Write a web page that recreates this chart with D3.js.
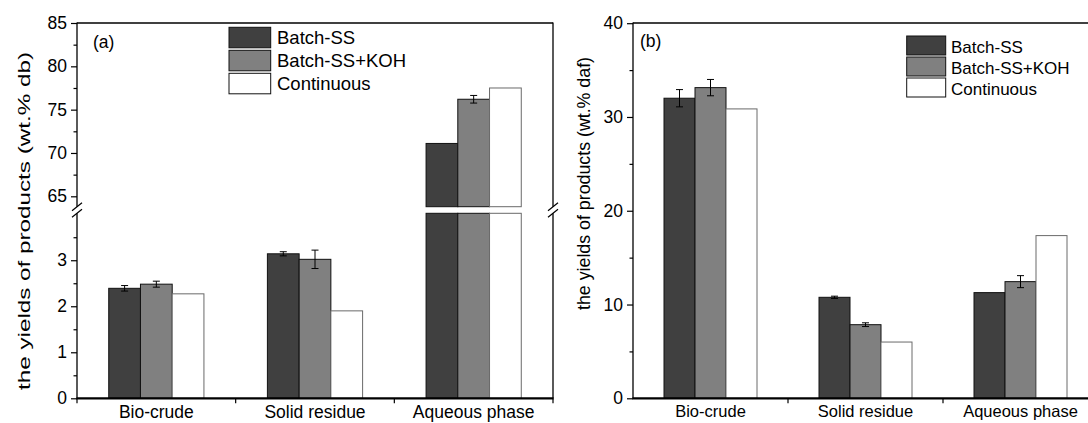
<!DOCTYPE html>
<html><head><meta charset="utf-8">
<script src="https://cdn.jsdelivr.net/npm/d3@7"></script>
<style>body{margin:0;background:#fff}svg{display:block;font-family:"Liberation Sans",Arial,sans-serif}</style>
</head><body>
<svg id="c" width="1088" height="423"></svg>
<script>
const categories = ["Bio-crude", "Solid residue", "Aqueous phase"];
const seriesNames = ["Batch-SS", "Batch-SS+KOH", "Continuous"];
const colors = ["#404040", "#808080", "#ffffff"];
// panel (a) wt.% db
const dbBatch = [2.39, 3.14, 71.1];
const dbBatchErr = [0.06, 0.045, 0];
const dbKOH = [2.48, 3.02, 76.2];
const dbKOHErr = [0.065, 0.2, 0.44];
const dbCont = [2.27, 1.90, 77.5];
const dbContErr = [0, 0, 0];
// panel (b) wt.% daf
const dafBatch = [32.0, 10.77, 11.27];
const dafBatchErr = [0.92, 0.12, 0];
const dafKOH = [33.13, 7.85, 12.44];
const dafKOHErr = [0.87, 0.2, 0.64];
const dafCont = [30.86, 6.0, 17.35];
const dafContErr = [0, 0, 0];
const upperTicks = [65, 70, 75, 80, 85];
const upperMinor = [67.5, 72.5, 77.5, 82.5];
const lowerTicks = [0, 1, 2, 3];
const lowerMinor = [0.5, 1.5, 2.5, 3.5];
const bTicks = [0, 10, 20, 30, 40];
const bMinor = [5, 15, 25, 35];

const svg = d3.select("#c");
const BOT = 398.3, TOP = 23;

function drawBars(g, x, inner, vals, errs, yFn, segs) {
  vals.forEach((vs, si) => {
    vs.forEach((v, ci) => {
      const bx = x(categories[ci]) + inner(seriesNames[si]);
      const w = inner.bandwidth();
      segs(v).forEach(([ya, yb]) => {
        g.append("rect").attr("x", bx).attr("y", ya).attr("width", w).attr("height", yb - ya)
          .attr("fill", colors[si]).attr("stroke", si === 2 ? "#6a6a6a" : "#111").attr("stroke-width", 1);
      });
      const e = errs[si][ci];
      if (e > 0) {
        const cx = bx + w / 2;
        const y1 = yFn(v + e), y2 = yFn(v - e);
        g.append("line").attr("x1", cx).attr("x2", cx).attr("y1", y1).attr("y2", y2).attr("stroke", "#000").attr("stroke-width", 1);
        [y1, y2].forEach(yy => g.append("line").attr("x1", cx - 3.5).attr("x2", cx + 3.5).attr("y1", yy).attr("y2", yy).attr("stroke", "#000").attr("stroke-width", 1));
      }
    });
  });
}

function styleAxis(ax) {
  ax.selectAll(".domain").remove();
  ax.selectAll(".tick line").attr("stroke", "#000").attr("stroke-width", 1.2);
  ax.selectAll(".tick text").attr("font-size", 17.5).attr("fill", "#000").attr("font-family", "Liberation Sans, Arial, sans-serif");
}

// ---------------- Panel (a) ----------------
{
  const L = 77, R = 553;
  const gapTop = 206.7, gapBot = 213.3;
  const yLow = d3.scaleLinear().domain([0, 4.02]).range([BOT, gapBot]);
  const yUp = d3.scaleLinear().domain([63.8, 85]).range([gapTop, TOP]);
  const yFn = v => v > 63.8 ? yUp(v) : yLow(v);
  const x = d3.scaleBand().domain(categories).range([L, R]).padding(0);
  const inner = d3.scaleBand().domain(seriesNames).range([x.bandwidth() * 0.2, x.bandwidth() * 0.8]);
  const g = svg.append("g");
  const segs = v => v > 63.8 ? [[yUp(v), gapTop], [gapBot, BOT]] : [[yLow(v), BOT]];
  drawBars(g, x, inner, [dbBatch, dbKOH, dbCont], [dbBatchErr, dbKOHErr, dbContErr], yFn, segs);

  const a1 = g.append("g").attr("transform", `translate(${L},0)`).call(d3.axisLeft(yUp).tickValues(upperTicks).tickSize(6).tickPadding(4).tickFormat(d3.format("d")));
  styleAxis(a1);
  const a1m = g.append("g").attr("transform", `translate(${L},0)`).call(d3.axisLeft(yUp).tickValues(upperMinor).tickSize(3.5).tickFormat(""));
  styleAxis(a1m);
  const a2 = g.append("g").attr("transform", `translate(${L},0)`).call(d3.axisLeft(yLow).tickValues(lowerTicks).tickSize(6).tickPadding(4).tickFormat(d3.format("d")));
  styleAxis(a2);
  const a2m = g.append("g").attr("transform", `translate(${L},0)`).call(d3.axisLeft(yLow).tickValues(lowerMinor).tickSize(3.5).tickFormat(""));
  styleAxis(a2m);

  const ln = (x1, y1, x2, y2, w) => g.append("line").attr("x1", x1).attr("y1", y1).attr("x2", x2).attr("y2", y2).attr("stroke", "#000").attr("stroke-width", w || 1.3);
  ln(L, TOP, R, TOP);
  [L, R].forEach(xx => {
    ln(xx, TOP - 0.6, xx, gapTop);
    ln(xx, gapBot, xx, BOT);
    ln(xx - 5, gapTop + 4, xx + 5, gapTop - 4, 1.2);
    ln(xx - 5, gapBot + 4, xx + 5, gapBot - 4, 1.2);
  });
  const xa = g.append("g").attr("transform", `translate(0,${BOT})`).call(d3.axisBottom(x).tickSize(0).tickPadding(7.5));
  xa.selectAll(".domain").remove();
  xa.selectAll(".tick text").attr("font-size", 17.5).attr("fill", "#000");
  [L, ...categories.map(c => x(c) + x.bandwidth())].forEach(xx => ln(xx, BOT, xx, BOT + 5, 1.2));
  ln(L - 0.6, BOT, R + 0.6, BOT, 2.2);

  g.append("text").attr("x", 93).attr("y", 48).attr("font-size", 17.5).text("(a)");
  g.append("text").attr("transform", `translate(30,221) rotate(-90)`).attr("text-anchor", "middle")
    .attr("font-size", 17).attr("textLength", 338).attr("lengthAdjust", "spacingAndGlyphs")
    .text("the yields of products (wt.% db)");

  const lg = g.append("g");
  seriesNames.forEach((s, i) => {
    lg.append("rect").attr("x", 229).attr("y", 27.3 + i * 23).attr("width", 41.7).attr("height", 20.5)
      .attr("fill", colors[i]).attr("stroke", "#111").attr("stroke-width", 1);
    lg.append("text").attr("x", 277).attr("y", 44.3 + i * 23).attr("font-size", 18.5).text(s);
  });
}

// ---------------- Panel (b) ----------------
{
  const L = 633, R = 1098;
  const y = d3.scaleLinear().domain([0, 40]).range([BOT, TOP + 0.2]);
  const x = d3.scaleBand().domain(categories).range([L, R]).padding(0);
  const inner = d3.scaleBand().domain(seriesNames).range([x.bandwidth() * 0.2, x.bandwidth() * 0.8]);
  const g = svg.append("g");
  drawBars(g, x, inner, [dafBatch, dafKOH, dafCont], [dafBatchErr, dafKOHErr, dafContErr], y, v => [[y(v), BOT]]);

  const a = g.append("g").attr("transform", `translate(${L},0)`).call(d3.axisLeft(y).tickValues(bTicks).tickSize(6).tickPadding(4).tickFormat(d3.format("d")));
  styleAxis(a);
  const am = g.append("g").attr("transform", `translate(${L},0)`).call(d3.axisLeft(y).tickValues(bMinor).tickSize(3.5).tickFormat(""));
  styleAxis(am);
  const ln = (x1, y1, x2, y2, w) => g.append("line").attr("x1", x1).attr("y1", y1).attr("x2", x2).attr("y2", y2).attr("stroke", "#000").attr("stroke-width", w || 1.3);
  ln(L, TOP, 1088, TOP);
  ln(L, TOP - 0.6, L, BOT);
  const xa = g.append("g").attr("transform", `translate(0,${BOT})`).call(d3.axisBottom(x).tickSize(0).tickPadding(7));
  xa.selectAll(".domain").remove();
  xa.selectAll(".tick text").attr("font-size", 16.5).attr("fill", "#000");
  categories.map(c => x(c) + x.bandwidth()).forEach(xx => ln(xx, BOT, xx, BOT + 5, 1.2));
  ln(L - 0.6, BOT, 1088, BOT, 2.2);

  g.append("text").attr("x", 640).attr("y", 46.7).attr("font-size", 17.5).text("(b)");
  g.append("text").attr("transform", `translate(590,183.5) rotate(-90)`).attr("text-anchor", "middle")
    .attr("font-size", 17.5).attr("textLength", 253).attr("lengthAdjust", "spacingAndGlyphs")
    .text("the yields of products (wt.% daf)");

  const lg = g.append("g");
  seriesNames.forEach((s, i) => {
    lg.append("rect").attr("x", 906.7).attr("y", 36 + i * 21).attr("width", 39).attr("height", 19)
      .attr("fill", colors[i]).attr("stroke", "#111").attr("stroke-width", 1);
    lg.append("text").attr("x", 951).attr("y", 52.7 + i * 21).attr("font-size", 17).text(s);
  });
}
</script>
</body></html>
